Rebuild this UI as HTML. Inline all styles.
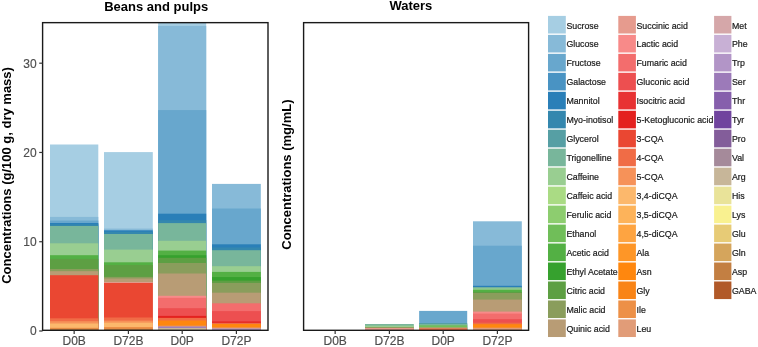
<!DOCTYPE html>
<html><head><meta charset="utf-8"><style>
html,body{margin:0;padding:0;background:#fff;}
svg{display:block;font-family:"Liberation Sans",sans-serif;will-change:transform;}
</style></head><body>
<svg width="758" height="347" viewBox="0 0 758 347">
<rect width="758" height="347" fill="#fff"/>
<g shape-rendering="geometricPrecision">
<rect x="50.0" y="144.5" width="48.30" height="185.70" fill="#A6CEE3"/>
<rect x="50.0" y="216.9" width="48.30" height="113.30" fill="#87BAD8"/>
<rect x="50.0" y="220.6" width="48.30" height="109.60" fill="#68A7CD"/>
<rect x="50.0" y="223.0" width="48.30" height="107.20" fill="#2A7FB8"/>
<rect x="50.0" y="224.3" width="48.30" height="105.90" fill="#3487AE"/>
<rect x="50.0" y="226.0" width="48.30" height="104.20" fill="#78B69B"/>
<rect x="50.0" y="243.3" width="48.30" height="86.90" fill="#99CE91"/>
<rect x="50.0" y="255.2" width="48.30" height="75.00" fill="#53B044"/>
<rect x="50.0" y="258.9" width="48.30" height="71.30" fill="#5D9F43"/>
<rect x="50.0" y="269" width="48.30" height="61.20" fill="#8A9D5C"/>
<rect x="50.0" y="271.2" width="48.30" height="59.00" fill="#B89C75"/>
<rect x="50.0" y="275.2" width="48.30" height="55.00" fill="#EA4732"/>
<rect x="50.0" y="318.3" width="48.30" height="11.90" fill="#F06C46"/>
<rect x="50.0" y="321.2" width="48.30" height="9.00" fill="#F69259"/>
<rect x="50.0" y="323.5" width="48.30" height="6.70" fill="#FCB86C"/>
<rect x="50.0" y="327.8" width="48.30" height="2.40" fill="#ED9047"/>
<rect x="50.0" y="328.8" width="48.30" height="1.40" fill="#C37F42"/>
<rect x="104.0" y="152.1" width="48.80" height="178.10" fill="#A6CEE3"/>
<rect x="104.0" y="228.6" width="48.80" height="101.60" fill="#87BAD8"/>
<rect x="104.0" y="230.3" width="48.80" height="99.90" fill="#2A7FB8"/>
<rect x="104.0" y="231.8" width="48.80" height="98.40" fill="#3487AE"/>
<rect x="104.0" y="234.0" width="48.80" height="96.20" fill="#78B69B"/>
<rect x="104.0" y="249.6" width="48.80" height="80.60" fill="#99CE91"/>
<rect x="104.0" y="262.3" width="48.80" height="67.90" fill="#53B044"/>
<rect x="104.0" y="265" width="48.80" height="65.20" fill="#5D9F43"/>
<rect x="104.0" y="276.9" width="48.80" height="53.30" fill="#8A9D5C"/>
<rect x="104.0" y="278.5" width="48.80" height="51.70" fill="#B89C75"/>
<rect x="104.0" y="282.1" width="48.80" height="48.10" fill="#E69B8E"/>
<rect x="104.0" y="283" width="48.80" height="47.20" fill="#EA4732"/>
<rect x="104.0" y="317.5" width="48.80" height="12.70" fill="#F06C46"/>
<rect x="104.0" y="320.6" width="48.80" height="9.60" fill="#F69259"/>
<rect x="104.0" y="322.7" width="48.80" height="7.50" fill="#FCB86C"/>
<rect x="104.0" y="327" width="48.80" height="3.20" fill="#ED9047"/>
<rect x="104.0" y="328.8" width="48.80" height="1.40" fill="#C37F42"/>
<rect x="158.15" y="22.5" width="48.05" height="307.70" fill="#A6CEE3"/>
<rect x="158.15" y="25.9" width="48.05" height="304.30" fill="#87BAD8"/>
<rect x="158.15" y="110.1" width="48.05" height="220.10" fill="#68A7CD"/>
<rect x="158.15" y="213.7" width="48.05" height="116.50" fill="#2A7FB8"/>
<rect x="158.15" y="220.2" width="48.05" height="110.00" fill="#3487AE"/>
<rect x="158.15" y="223.1" width="48.05" height="107.10" fill="#78B69B"/>
<rect x="158.15" y="240.8" width="48.05" height="89.40" fill="#99CE91"/>
<rect x="158.15" y="250.6" width="48.05" height="79.60" fill="#53B044"/>
<rect x="158.15" y="255.2" width="48.05" height="75.00" fill="#36A12E"/>
<rect x="158.15" y="257.8" width="48.05" height="72.40" fill="#5D9F43"/>
<rect x="158.15" y="263" width="48.05" height="67.20" fill="#8A9D5C"/>
<rect x="158.15" y="273.5" width="48.05" height="56.70" fill="#B89C75"/>
<rect x="158.15" y="295.8" width="48.05" height="34.40" fill="#F88A89"/>
<rect x="158.15" y="297.8" width="48.05" height="32.40" fill="#F36D6D"/>
<rect x="158.15" y="308.2" width="48.05" height="22.00" fill="#ED4F50"/>
<rect x="158.15" y="315.9" width="48.05" height="14.30" fill="#E4211F"/>
<rect x="158.15" y="317.9" width="48.05" height="12.30" fill="#F06C46"/>
<rect x="158.15" y="320.5" width="48.05" height="9.70" fill="#FF870E"/>
<rect x="158.15" y="325.7" width="48.05" height="4.50" fill="#E19C78"/>
<rect x="158.15" y="326.6" width="48.05" height="3.60" fill="#9C7AB9"/>
<rect x="158.15" y="327.9" width="48.05" height="2.30" fill="#C7B699"/>
<rect x="212.0" y="183.9" width="48.80" height="146.30" fill="#87BAD8"/>
<rect x="212.0" y="208.5" width="48.80" height="121.70" fill="#68A7CD"/>
<rect x="212.0" y="244.3" width="48.80" height="85.90" fill="#2A7FB8"/>
<rect x="212.0" y="247.5" width="48.80" height="82.70" fill="#3487AE"/>
<rect x="212.0" y="250.2" width="48.80" height="80.00" fill="#78B69B"/>
<rect x="212.0" y="266.2" width="48.80" height="64.00" fill="#99CE91"/>
<rect x="212.0" y="271.9" width="48.80" height="58.30" fill="#53B044"/>
<rect x="212.0" y="277.1" width="48.80" height="53.10" fill="#36A12E"/>
<rect x="212.0" y="280.6" width="48.80" height="49.60" fill="#5D9F43"/>
<rect x="212.0" y="282.9" width="48.80" height="47.30" fill="#8A9D5C"/>
<rect x="212.0" y="292.7" width="48.80" height="37.50" fill="#B89C75"/>
<rect x="212.0" y="303.3" width="48.80" height="26.90" fill="#F36D6D"/>
<rect x="212.0" y="311.1" width="48.80" height="19.10" fill="#ED4F50"/>
<rect x="212.0" y="321.5" width="48.80" height="8.70" fill="#E4211F"/>
<rect x="212.0" y="322.8" width="48.80" height="7.40" fill="#F06C46"/>
<rect x="212.0" y="324" width="48.80" height="6.20" fill="#FF870E"/>
<rect x="212.0" y="327.5" width="48.80" height="2.70" fill="#E19C78"/>
<rect x="212.0" y="328.5" width="48.80" height="1.70" fill="#B295C7"/>
<rect x="365.0" y="324" width="48.80" height="6.20" fill="#78B69B"/>
<rect x="365.0" y="325.6" width="48.80" height="4.60" fill="#99CE91"/>
<rect x="365.0" y="327" width="48.80" height="3.20" fill="#8A9D5C"/>
<rect x="365.0" y="327.9" width="48.80" height="2.30" fill="#E69B8E"/>
<rect x="419.15" y="310.9" width="48.05" height="19.30" fill="#68A7CD"/>
<rect x="419.15" y="323" width="48.05" height="7.20" fill="#569FA4"/>
<rect x="419.15" y="324" width="48.05" height="6.20" fill="#78B69B"/>
<rect x="419.15" y="325.3" width="48.05" height="4.90" fill="#70BE59"/>
<rect x="419.15" y="327.3" width="48.05" height="2.90" fill="#B89C75"/>
<rect x="419.15" y="328.4" width="48.05" height="1.80" fill="#F06C46"/>
<rect x="473.0" y="221.3" width="48.80" height="108.90" fill="#87BAD8"/>
<rect x="473.0" y="245.7" width="48.80" height="84.50" fill="#68A7CD"/>
<rect x="473.0" y="285.8" width="48.80" height="44.40" fill="#2A7FB8"/>
<rect x="473.0" y="287.1" width="48.80" height="43.10" fill="#78B69B"/>
<rect x="473.0" y="288.4" width="48.80" height="41.80" fill="#99CE91"/>
<rect x="473.0" y="289.7" width="48.80" height="40.50" fill="#53B044"/>
<rect x="473.0" y="291.9" width="48.80" height="38.30" fill="#5D9F43"/>
<rect x="473.0" y="293" width="48.80" height="37.20" fill="#8A9D5C"/>
<rect x="473.0" y="299.6" width="48.80" height="30.60" fill="#B89C75"/>
<rect x="473.0" y="311.6" width="48.80" height="18.60" fill="#F88A89"/>
<rect x="473.0" y="313.6" width="48.80" height="16.60" fill="#F36D6D"/>
<rect x="473.0" y="319.2" width="48.80" height="11.00" fill="#ED4F50"/>
<rect x="473.0" y="322.7" width="48.80" height="7.50" fill="#F06C46"/>
<rect x="473.0" y="324.2" width="48.80" height="6.00" fill="#FF870E"/>
<rect x="473.0" y="327.7" width="48.80" height="2.50" fill="#E19C78"/>
</g>
<rect x="42.6" y="22.65" width="225.4" height="307.65000000000003" fill="none" stroke="#1a1a1a" stroke-width="1.4" shape-rendering="geometricPrecision"/>
<rect x="303.6" y="22.65" width="225.0" height="307.65000000000003" fill="none" stroke="#1a1a1a" stroke-width="1.4" shape-rendering="geometricPrecision"/>
<line x1="39.2" x2="42.6" y1="331.00" y2="331.00" stroke="#333" stroke-width="1.2" shape-rendering="geometricPrecision"/>
<text x="36.6" y="335.45" text-anchor="end" font-size="12" fill="#4d4d4d" stroke="#4d4d4d" stroke-width="0.15">0</text>
<line x1="39.2" x2="42.6" y1="241.73" y2="241.73" stroke="#333" stroke-width="1.2" shape-rendering="geometricPrecision"/>
<text x="36.6" y="246.18" text-anchor="end" font-size="12" fill="#4d4d4d" stroke="#4d4d4d" stroke-width="0.15">10</text>
<line x1="39.2" x2="42.6" y1="152.46" y2="152.46" stroke="#333" stroke-width="1.2" shape-rendering="geometricPrecision"/>
<text x="36.6" y="156.91" text-anchor="end" font-size="12" fill="#4d4d4d" stroke="#4d4d4d" stroke-width="0.15">20</text>
<line x1="39.2" x2="42.6" y1="63.19" y2="63.19" stroke="#333" stroke-width="1.2" shape-rendering="geometricPrecision"/>
<text x="36.6" y="67.64" text-anchor="end" font-size="12" fill="#4d4d4d" stroke="#4d4d4d" stroke-width="0.15">30</text>
<line x1="74.15" x2="74.15" y1="330.3" y2="333.9" stroke="#333" stroke-width="1.2" shape-rendering="geometricPrecision"/>
<text x="74.15" y="345" text-anchor="middle" font-size="12" fill="#4d4d4d" stroke="#4d4d4d" stroke-width="0.15">D0B</text>
<line x1="128.40" x2="128.40" y1="330.3" y2="333.9" stroke="#333" stroke-width="1.2" shape-rendering="geometricPrecision"/>
<text x="128.40" y="345" text-anchor="middle" font-size="12" fill="#4d4d4d" stroke="#4d4d4d" stroke-width="0.15">D72B</text>
<line x1="182.20" x2="182.20" y1="330.3" y2="333.9" stroke="#333" stroke-width="1.2" shape-rendering="geometricPrecision"/>
<text x="182.20" y="345" text-anchor="middle" font-size="12" fill="#4d4d4d" stroke="#4d4d4d" stroke-width="0.15">D0P</text>
<line x1="236.40" x2="236.40" y1="330.3" y2="333.9" stroke="#333" stroke-width="1.2" shape-rendering="geometricPrecision"/>
<text x="236.40" y="345" text-anchor="middle" font-size="12" fill="#4d4d4d" stroke="#4d4d4d" stroke-width="0.15">D72P</text>
<line x1="335.15" x2="335.15" y1="330.3" y2="333.9" stroke="#333" stroke-width="1.2" shape-rendering="geometricPrecision"/>
<text x="335.15" y="345" text-anchor="middle" font-size="12" fill="#4d4d4d" stroke="#4d4d4d" stroke-width="0.15">D0B</text>
<line x1="389.40" x2="389.40" y1="330.3" y2="333.9" stroke="#333" stroke-width="1.2" shape-rendering="geometricPrecision"/>
<text x="389.40" y="345" text-anchor="middle" font-size="12" fill="#4d4d4d" stroke="#4d4d4d" stroke-width="0.15">D72B</text>
<line x1="443.20" x2="443.20" y1="330.3" y2="333.9" stroke="#333" stroke-width="1.2" shape-rendering="geometricPrecision"/>
<text x="443.20" y="345" text-anchor="middle" font-size="12" fill="#4d4d4d" stroke="#4d4d4d" stroke-width="0.15">D0P</text>
<line x1="497.40" x2="497.40" y1="330.3" y2="333.9" stroke="#333" stroke-width="1.2" shape-rendering="geometricPrecision"/>
<text x="497.40" y="345" text-anchor="middle" font-size="12" fill="#4d4d4d" stroke="#4d4d4d" stroke-width="0.15">D72P</text>
<text x="156.2" y="10.5" text-anchor="middle" font-size="13" font-weight="bold" fill="#000">Beans and pulps</text>
<text x="410.9" y="10.3" text-anchor="middle" font-size="13" font-weight="bold" fill="#000">Waters</text>
<text transform="translate(11.3,175.45) rotate(-90)" text-anchor="middle" font-size="13" font-weight="bold" fill="#000">Concentrations (g/100 g, dry mass)</text>
<text transform="translate(291.3,174.65) rotate(-90)" text-anchor="middle" font-size="13" font-weight="bold" fill="#000">Concentrations (mg/mL)</text>
<rect x="548.0" y="15.90" width="17.8" height="17.6" fill="#A6CEE3"/>
<text x="566.40" y="28.50" font-size="8.8" fill="#1a1a1a" stroke="#1a1a1a" stroke-width="0.2">Sucrose</text>
<rect x="548.0" y="34.87" width="17.8" height="17.6" fill="#87BAD8"/>
<text x="566.40" y="47.47" font-size="8.8" fill="#1a1a1a" stroke="#1a1a1a" stroke-width="0.2">Glucose</text>
<rect x="548.0" y="53.84" width="17.8" height="17.6" fill="#68A7CD"/>
<text x="566.40" y="66.44" font-size="8.8" fill="#1a1a1a" stroke="#1a1a1a" stroke-width="0.2">Fructose</text>
<rect x="548.0" y="72.81" width="17.8" height="17.6" fill="#4993C3"/>
<text x="566.40" y="85.41" font-size="8.8" fill="#1a1a1a" stroke="#1a1a1a" stroke-width="0.2">Galactose</text>
<rect x="548.0" y="91.78" width="17.8" height="17.6" fill="#2A7FB8"/>
<text x="566.40" y="104.38" font-size="8.8" fill="#1a1a1a" stroke="#1a1a1a" stroke-width="0.2">Mannitol</text>
<rect x="548.0" y="110.75" width="17.8" height="17.6" fill="#3487AE"/>
<text x="566.40" y="123.35" font-size="8.8" fill="#1a1a1a" stroke="#1a1a1a" stroke-width="0.2">Myo-inotisol</text>
<rect x="548.0" y="129.72" width="17.8" height="17.6" fill="#569FA4"/>
<text x="566.40" y="142.32" font-size="8.8" fill="#1a1a1a" stroke="#1a1a1a" stroke-width="0.2">Glycerol</text>
<rect x="548.0" y="148.69" width="17.8" height="17.6" fill="#78B69B"/>
<text x="566.40" y="161.29" font-size="8.8" fill="#1a1a1a" stroke="#1a1a1a" stroke-width="0.2">Trigonelline</text>
<rect x="548.0" y="167.66" width="17.8" height="17.6" fill="#99CE91"/>
<text x="566.40" y="180.26" font-size="8.8" fill="#1a1a1a" stroke="#1a1a1a" stroke-width="0.2">Caffeine</text>
<rect x="548.0" y="186.63" width="17.8" height="17.6" fill="#AADB84"/>
<text x="566.40" y="199.23" font-size="8.8" fill="#1a1a1a" stroke="#1a1a1a" stroke-width="0.2">Caffeic acid</text>
<rect x="548.0" y="205.60" width="17.8" height="17.6" fill="#8DCD6F"/>
<text x="566.40" y="218.20" font-size="8.8" fill="#1a1a1a" stroke="#1a1a1a" stroke-width="0.2">Ferulic acid</text>
<rect x="548.0" y="224.57" width="17.8" height="17.6" fill="#70BE59"/>
<text x="566.40" y="237.17" font-size="8.8" fill="#1a1a1a" stroke="#1a1a1a" stroke-width="0.2">Ethanol</text>
<rect x="548.0" y="243.54" width="17.8" height="17.6" fill="#53B044"/>
<text x="566.40" y="256.14" font-size="8.8" fill="#1a1a1a" stroke="#1a1a1a" stroke-width="0.2">Acetic acid</text>
<rect x="548.0" y="262.51" width="17.8" height="17.6" fill="#36A12E"/>
<text x="566.40" y="275.11" font-size="8.8" fill="#1a1a1a" stroke="#1a1a1a" stroke-width="0.2">Ethyl Acetate</text>
<rect x="548.0" y="281.48" width="17.8" height="17.6" fill="#5D9F43"/>
<text x="566.40" y="294.08" font-size="8.8" fill="#1a1a1a" stroke="#1a1a1a" stroke-width="0.2">Citric acid</text>
<rect x="548.0" y="300.45" width="17.8" height="17.6" fill="#8A9D5C"/>
<text x="566.40" y="313.05" font-size="8.8" fill="#1a1a1a" stroke="#1a1a1a" stroke-width="0.2">Malic acid</text>
<rect x="548.0" y="319.42" width="17.8" height="17.6" fill="#B89C75"/>
<text x="566.40" y="332.02" font-size="8.8" fill="#1a1a1a" stroke="#1a1a1a" stroke-width="0.2">Quinic acid</text>
<rect x="618.3" y="15.90" width="17.6" height="17.6" fill="#E69B8E"/>
<text x="636.50" y="28.50" font-size="8.8" fill="#1a1a1a" stroke="#1a1a1a" stroke-width="0.2">Succinic acid</text>
<rect x="618.3" y="34.87" width="17.6" height="17.6" fill="#F88A89"/>
<text x="636.50" y="47.47" font-size="8.8" fill="#1a1a1a" stroke="#1a1a1a" stroke-width="0.2">Lactic acid</text>
<rect x="618.3" y="53.84" width="17.6" height="17.6" fill="#F36D6D"/>
<text x="636.50" y="66.44" font-size="8.8" fill="#1a1a1a" stroke="#1a1a1a" stroke-width="0.2">Fumaric acid</text>
<rect x="618.3" y="72.81" width="17.6" height="17.6" fill="#ED4F50"/>
<text x="636.50" y="85.41" font-size="8.8" fill="#1a1a1a" stroke="#1a1a1a" stroke-width="0.2">Gluconic acid</text>
<rect x="618.3" y="91.78" width="17.6" height="17.6" fill="#E83233"/>
<text x="636.50" y="104.38" font-size="8.8" fill="#1a1a1a" stroke="#1a1a1a" stroke-width="0.2">Isocitric acid</text>
<rect x="618.3" y="110.75" width="17.6" height="17.6" fill="#E4211F"/>
<text x="636.50" y="123.35" font-size="8.8" fill="#1a1a1a" stroke="#1a1a1a" stroke-width="0.2">5-Ketogluconic acid</text>
<rect x="618.3" y="129.72" width="17.6" height="17.6" fill="#EA4732"/>
<text x="636.50" y="142.32" font-size="8.8" fill="#1a1a1a" stroke="#1a1a1a" stroke-width="0.2">3-CQA</text>
<rect x="618.3" y="148.69" width="17.6" height="17.6" fill="#F06C46"/>
<text x="636.50" y="161.29" font-size="8.8" fill="#1a1a1a" stroke="#1a1a1a" stroke-width="0.2">4-CQA</text>
<rect x="618.3" y="167.66" width="17.6" height="17.6" fill="#F69259"/>
<text x="636.50" y="180.26" font-size="8.8" fill="#1a1a1a" stroke="#1a1a1a" stroke-width="0.2">5-CQA</text>
<rect x="618.3" y="186.63" width="17.6" height="17.6" fill="#FCB86C"/>
<text x="636.50" y="199.23" font-size="8.8" fill="#1a1a1a" stroke="#1a1a1a" stroke-width="0.2">3,4-diCQA</text>
<rect x="618.3" y="205.60" width="17.6" height="17.6" fill="#FDB35A"/>
<text x="636.50" y="218.20" font-size="8.8" fill="#1a1a1a" stroke="#1a1a1a" stroke-width="0.2">3,5-diCQA</text>
<rect x="618.3" y="224.57" width="17.6" height="17.6" fill="#FEA441"/>
<text x="636.50" y="237.17" font-size="8.8" fill="#1a1a1a" stroke="#1a1a1a" stroke-width="0.2">4,5-diCQA</text>
<rect x="618.3" y="243.54" width="17.6" height="17.6" fill="#FE9627"/>
<text x="636.50" y="256.14" font-size="8.8" fill="#1a1a1a" stroke="#1a1a1a" stroke-width="0.2">Ala</text>
<rect x="618.3" y="262.51" width="17.6" height="17.6" fill="#FF870E"/>
<text x="636.50" y="275.11" font-size="8.8" fill="#1a1a1a" stroke="#1a1a1a" stroke-width="0.2">Asn</text>
<rect x="618.3" y="281.48" width="17.6" height="17.6" fill="#F98416"/>
<text x="636.50" y="294.08" font-size="8.8" fill="#1a1a1a" stroke="#1a1a1a" stroke-width="0.2">Gly</text>
<rect x="618.3" y="300.45" width="17.6" height="17.6" fill="#ED9047"/>
<text x="636.50" y="313.05" font-size="8.8" fill="#1a1a1a" stroke="#1a1a1a" stroke-width="0.2">Ile</text>
<rect x="618.3" y="319.42" width="17.6" height="17.6" fill="#E19C78"/>
<text x="636.50" y="332.02" font-size="8.8" fill="#1a1a1a" stroke="#1a1a1a" stroke-width="0.2">Leu</text>
<rect x="714.1" y="15.90" width="17.3" height="17.6" fill="#D5A7A9"/>
<text x="732.00" y="28.50" font-size="8.8" fill="#1a1a1a" stroke="#1a1a1a" stroke-width="0.2">Met</text>
<rect x="714.1" y="34.87" width="17.3" height="17.6" fill="#C8B0D5"/>
<text x="732.00" y="47.47" font-size="8.8" fill="#1a1a1a" stroke="#1a1a1a" stroke-width="0.2">Phe</text>
<rect x="714.1" y="53.84" width="17.3" height="17.6" fill="#B295C7"/>
<text x="732.00" y="66.44" font-size="8.8" fill="#1a1a1a" stroke="#1a1a1a" stroke-width="0.2">Trp</text>
<rect x="714.1" y="72.81" width="17.3" height="17.6" fill="#9C7AB9"/>
<text x="732.00" y="85.41" font-size="8.8" fill="#1a1a1a" stroke="#1a1a1a" stroke-width="0.2">Ser</text>
<rect x="714.1" y="91.78" width="17.3" height="17.6" fill="#865FAC"/>
<text x="732.00" y="104.38" font-size="8.8" fill="#1a1a1a" stroke="#1a1a1a" stroke-width="0.2">Thr</text>
<rect x="714.1" y="110.75" width="17.3" height="17.6" fill="#70449E"/>
<text x="732.00" y="123.35" font-size="8.8" fill="#1a1a1a" stroke="#1a1a1a" stroke-width="0.2">Tyr</text>
<rect x="714.1" y="129.72" width="17.3" height="17.6" fill="#835D9A"/>
<text x="732.00" y="142.32" font-size="8.8" fill="#1a1a1a" stroke="#1a1a1a" stroke-width="0.2">Pro</text>
<rect x="714.1" y="148.69" width="17.3" height="17.6" fill="#A58A9A"/>
<text x="732.00" y="161.29" font-size="8.8" fill="#1a1a1a" stroke="#1a1a1a" stroke-width="0.2">Val</text>
<rect x="714.1" y="167.66" width="17.3" height="17.6" fill="#C7B699"/>
<text x="732.00" y="180.26" font-size="8.8" fill="#1a1a1a" stroke="#1a1a1a" stroke-width="0.2">Arg</text>
<rect x="714.1" y="186.63" width="17.3" height="17.6" fill="#E9E399"/>
<text x="732.00" y="199.23" font-size="8.8" fill="#1a1a1a" stroke="#1a1a1a" stroke-width="0.2">His</text>
<rect x="714.1" y="205.60" width="17.3" height="17.6" fill="#F9F190"/>
<text x="732.00" y="218.20" font-size="8.8" fill="#1a1a1a" stroke="#1a1a1a" stroke-width="0.2">Lys</text>
<rect x="714.1" y="224.57" width="17.3" height="17.6" fill="#E7CB76"/>
<text x="732.00" y="237.17" font-size="8.8" fill="#1a1a1a" stroke="#1a1a1a" stroke-width="0.2">Glu</text>
<rect x="714.1" y="243.54" width="17.3" height="17.6" fill="#D5A55C"/>
<text x="732.00" y="256.14" font-size="8.8" fill="#1a1a1a" stroke="#1a1a1a" stroke-width="0.2">Gln</text>
<rect x="714.1" y="262.51" width="17.3" height="17.6" fill="#C37F42"/>
<text x="732.00" y="275.11" font-size="8.8" fill="#1a1a1a" stroke="#1a1a1a" stroke-width="0.2">Asp</text>
<rect x="714.1" y="281.48" width="17.3" height="17.6" fill="#B15928"/>
<text x="732.00" y="294.08" font-size="8.8" fill="#1a1a1a" stroke="#1a1a1a" stroke-width="0.2">GABA</text>
</svg>
</body></html>
